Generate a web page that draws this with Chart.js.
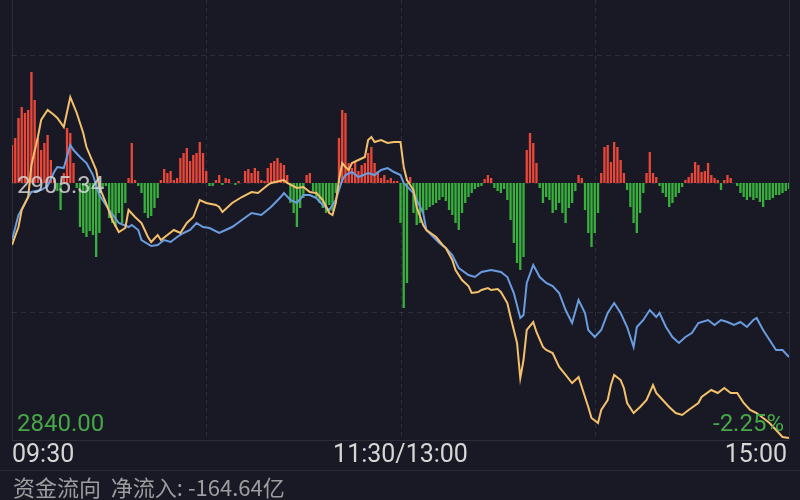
<!DOCTYPE html>
<html>
<head>
<meta charset="utf-8">
<script src="https://cdn.jsdelivr.net/npm/chart.js@4/dist/chart.umd.min.js"></script>
<style>
  html,body{margin:0;padding:0;background:#181924;}
  #wrap{width:800px;height:500px;position:relative;}
</style>
</head>
<body>
<div id="wrap"><canvas id="c" width="800" height="500"></canvas></div>
<script>
// ---- Tick / label data ----
const timeLabels = ['09:30', '11:30/13:00', '15:00'];
const timeLabelMinutes = [0, 120, 240];
const timeGridMinutes = [0, 60, 120, 180, 240];
const prevClose = 2905.34;
const lowLabel = 2840.00;
const priceGrid = [2840.00, 2872.67, 2905.34, 2938.01];
const priceMax = 2951.87;
const pctLabel = '-2.25%';
const flowCaption = '资金流向  净流入: -164.64亿';

// ---- Net fund flow per minute (index = minute from 09:30, 13:00 continues at 120) ----
const netFlow = [
  38,45,65,76,70,73,111,83,45,33, 40,48,23,5,-8,-27,10,55,50,20,
  -5,-44,-50,-54,-48,-52,-74,-50,-5,-3, -35,-40,-44,-30,-40,-20,5,40,3,-3,
  -10,-30,-35,-33,-25,-15,3,14,10,12, 3,5,25,30,35,22,28,30,41,30,
  12,-3,-3,3,8,-2,5,4,0,-2, 2,0,12,14,10,15,12,3,2,15,
  20,22,25,20,18,8,-20,-30,-44,-25, -15,8,10,-8,-15,-20,-25,-30,-22,-28,
  -10,45,73,70,20,15,22,12,18,20, 30,36,20,12,5,8,3,5,2,2,
  -40,-125,-100,6,-30,-42,-40,-30,-27,-24, -22,-20,-17,-14,-18,-27,-32,-40,-47,-30,
  -20,-14,-10,-6,-4,-3,4,8,5,-5, -8,-10,-6,-17,-37,-60,-80,-87,-74,33,
  50,40,20,-5,-20,-14,-17,-30,-27,-20, -30,-40,-25,-20,-8,8,5,-27,-50,-64,
  -50,-30,10,36,38,21,41,36,23,10, -7,-24,-40,-50,-30,-10,10,31,10,6,
  -3,-10,-14,-24,-20,-14,-10,-4,3,6, 10,21,18,11,12,20,8,5,3,-7,
  3,8,5,0,-3,-10,-14,-17,-14,-17, -15,-19,-24,-17,-17,-15,-12,-12,-10,-8,
  -6
];

// ---- Index price (yellow) ----
const priceMinutes = [0,2,3,5,6,8,9,11,13,14,16,18,20,22,23,26,27,29,31,33,35,36,38,40,42,43,45,46,48,50,52,54,56,58,60,63,64,65,68,71,74,76,79,80,84,85,88,90,92,94,96,98,99,100,101,102,103,104,105,107,109,110,111,112,114,116,118,120,121,122,124,125,127,128,131,133,134,136,137,139,141,142,144,145,147,148,150,151,153,154,156,157,158,159,161,162,164,165,167,169,171,173,175,178,179,181,182,184,185,186,188,189,190,192,194,196,198,199,201,203,205,207,209,212,213,216,218,220,222,224,226,228,230,232,234,236,238,240];
const priceValues = [2889.58,2894.15,2898.48,2901.78,2909.92,2917.04,2921.36,2923.90,2922.63,2921.87,2919.58,2927.20,2923.14,2918.05,2914.49,2908.65,2904.32,2900.26,2895.93,2892.88,2893.90,2898.48,2896.70,2895.17,2891.61,2890.34,2892.12,2890.85,2892.12,2893.39,2892.63,2895.17,2896.70,2901.02,2900.26,2899.75,2899.24,2897.97,2900.26,2901.78,2903.05,2902.80,2904.83,2905.34,2906.10,2905.34,2904.07,2904.32,2903.05,2902.80,2901.02,2897.71,2897.20,2900.26,2906.10,2910.42,2909.41,2908.65,2910.42,2911.19,2911.95,2916.27,2917.04,2915.76,2916.27,2915.51,2915.76,2915.76,2909.41,2906.10,2903.56,2899.24,2894.66,2893.39,2891.61,2889.58,2888.81,2885.76,2883.22,2880.68,2879.15,2877.37,2877.63,2878.14,2878.64,2878.14,2878.39,2877.63,2874.83,2871.27,2864.66,2855.76,2860.34,2867.97,2870.00,2867.46,2863.64,2862.88,2862.12,2858.56,2856.53,2854.49,2856.02,2848.39,2845.59,2844.32,2847.63,2850.17,2853.98,2856.53,2855.25,2853.22,2849.41,2846.86,2848.39,2850.17,2853.98,2851.95,2850.17,2848.39,2846.86,2846.36,2847.63,2849.41,2850.93,2852.71,2851.95,2853.22,2851.95,2851.95,2849.41,2847.63,2846.86,2845.59,2844.32,2842.54,2840.76,2840.51];

// ---- Unweighted index (blue) ----
const leadMinutes = [0,2,5,6,9,11,13,14,16,18,19,21,23,25,27,30,33,36,37,39,40,43,45,47,49,51,53,55,57,59,61,64,66,68,71,74,77,80,83,84,86,88,90,92,94,96,98,100,102,103,105,107,110,112,114,116,118,120,121,124,127,128,132,134,136,138,141,143,145,148,151,153,155,157,158,159,161,163,165,167,169,171,173,175,177,178,180,182,184,186,188,190,192,193,195,197,199,200,202,204,206,208,210,212,215,217,219,221,223,225,227,229,230,232,234,236,238,240];
const leadValues = [2890.85,2897.20,2901.78,2903.05,2903.56,2904.58,2908.14,2909.41,2909.15,2915.00,2913.73,2911.95,2910.42,2907.37,2902.29,2898.48,2895.17,2894.15,2894.66,2893.39,2890.85,2889.32,2889.58,2890.85,2890.34,2891.61,2892.63,2893.39,2895.17,2894.15,2893.90,2892.63,2893.39,2894.15,2895.93,2897.71,2897.20,2899.24,2901.78,2902.80,2901.02,2900.26,2902.29,2902.29,2901.53,2899.75,2898.48,2901.02,2906.10,2907.37,2908.14,2906.87,2907.88,2907.37,2908.65,2909.15,2908.14,2907.37,2905.34,2902.80,2897.71,2893.39,2890.09,2888.81,2887.03,2883.73,2881.95,2881.44,2882.71,2883.22,2882.71,2881.44,2877.37,2871.02,2871.78,2879.92,2884.49,2881.44,2879.92,2879.15,2877.37,2873.05,2869.75,2875.59,2872.29,2867.97,2866.19,2867.97,2872.29,2874.83,2872.29,2868.73,2863.64,2868.73,2870.51,2873.05,2871.27,2872.29,2868.73,2866.19,2864.66,2866.19,2867.20,2869.75,2870.51,2869.24,2870.51,2870.00,2869.24,2870.00,2868.73,2870.51,2871.02,2867.97,2865.42,2862.88,2862.88,2861.10];

const RED = '#e8473a', GREEN = '#39b03d', YELLOW = '#f4c06b', BLUE = '#6a9ce0';

const overlay = {
  id: 'overlay',
  beforeDraw(chart) {
    const c = chart.ctx;
    c.save();
    c.fillStyle = '#181924';
    c.fillRect(0, 0, chart.width, chart.height);
    c.restore();
  },
  beforeDatasetsDraw(chart) {
    const c = chart.ctx, a = chart.chartArea, x = chart.scales.x, y = chart.scales.y;
    c.save();
    c.lineWidth = 1;
    c.strokeStyle = 'rgba(255,255,255,0.09)';
    timeGridMinutes.forEach((m, i) => {
      const px = Math.round(x.getPixelForValue(m)) + 0.5;
      c.setLineDash(i === 0 || i === timeGridMinutes.length - 1 ? [] : [4, 4]);
      c.beginPath(); c.moveTo(px, 0); c.lineTo(px, a.bottom); c.stroke();
    });
    priceGrid.forEach((p, i) => {
      const py = Math.round(y.getPixelForValue(p)) + 0.5;
      c.setLineDash(i === 0 ? [] : [5, 4]);
      c.beginPath(); c.moveTo(a.left, py); c.lineTo(a.right, py); c.stroke();
    });
    c.setLineDash([]);
    c.strokeStyle = 'rgba(255,255,255,0.06)';
    c.beginPath(); c.moveTo(0, a.bottom + 30.5); c.lineTo(chart.width, a.bottom + 30.5); c.stroke();
    c.restore();
  },
  afterDatasetsDraw(chart) {
    const c = chart.ctx, a = chart.chartArea, x = chart.scales.x, y = chart.scales.y;
    c.save();
    c.textBaseline = 'middle';
    c.font = '24px Roboto, "Noto Sans", sans-serif';
    c.fillStyle = 'rgba(215,215,215,0.85)';
    c.textAlign = 'left';
    c.fillText(prevClose.toFixed(2), a.left + 5, y.getPixelForValue(prevClose) + 4);
    c.fillStyle = '#47a647';
    c.fillText(lowLabel.toFixed(2), a.left + 5, y.getPixelForValue(lowLabel) - 15);
    c.textAlign = 'right';
    c.fillText(pctLabel, a.right - 5, y.getPixelForValue(lowLabel) - 15);
    c.fillStyle = '#d6d6d6';
    c.font = '25px Roboto, "Noto Sans", sans-serif';
    timeLabels.forEach((t, i) => {
      const px = x.getPixelForValue(timeLabelMinutes[i]);
      const last = i === timeLabels.length - 1;
      c.textAlign = i === 0 ? 'left' : (last ? 'right' : 'center');
      c.fillText(t, px + (last ? -2 : 0), a.bottom + 16);
    });
    c.font = '22px "Noto Sans CJK SC", sans-serif';
    c.fillStyle = 'rgba(190,190,190,0.8)';
    c.textAlign = 'left';
    c.fillText(flowCaption, a.left + 1, a.bottom + 48);
    c.restore();
  }
};

new Chart(document.getElementById('c'), {
  data: {
    datasets: [
      {
        type: 'line', label: 'price', order: 0,
        data: priceMinutes.map((m, i) => ({x: m, y: priceValues[i]})),
        borderColor: YELLOW, borderWidth: 2, pointRadius: 0, tension: 0, yAxisID: 'y'
      },
      {
        type: 'line', label: 'lead', order: 1,
        data: leadMinutes.map((m, i) => ({x: m, y: leadValues[i]})),
        borderColor: BLUE, borderWidth: 2, pointRadius: 0, tension: 0, yAxisID: 'y'
      },
      {
        type: 'bar', label: 'flow', order: 2,
        data: netFlow.map((v, i) => ({x: i, y: v})),
        backgroundColor: ctx => (ctx.raw && ctx.raw.y >= 0) ? RED : GREEN,
        barPercentage: 0.72, categoryPercentage: 1, yAxisID: 'yb'
      }
    ]
  },
  options: {
    responsive: false, animation: false,
    layout: {padding: {left: 12, right: 11, top: 0, bottom: 60}},
    plugins: {legend: {display: false}, tooltip: {enabled: false}},
    scales: {
      x: {type: 'linear', min: 0, max: 240, offset: false, display: false},
      y: {min: lowLabel, max: priceMax, display: false},
      yb: {min: -257, max: 183, display: false}
    }
  },
  plugins: [overlay]
});
</script>
</body>
</html>
